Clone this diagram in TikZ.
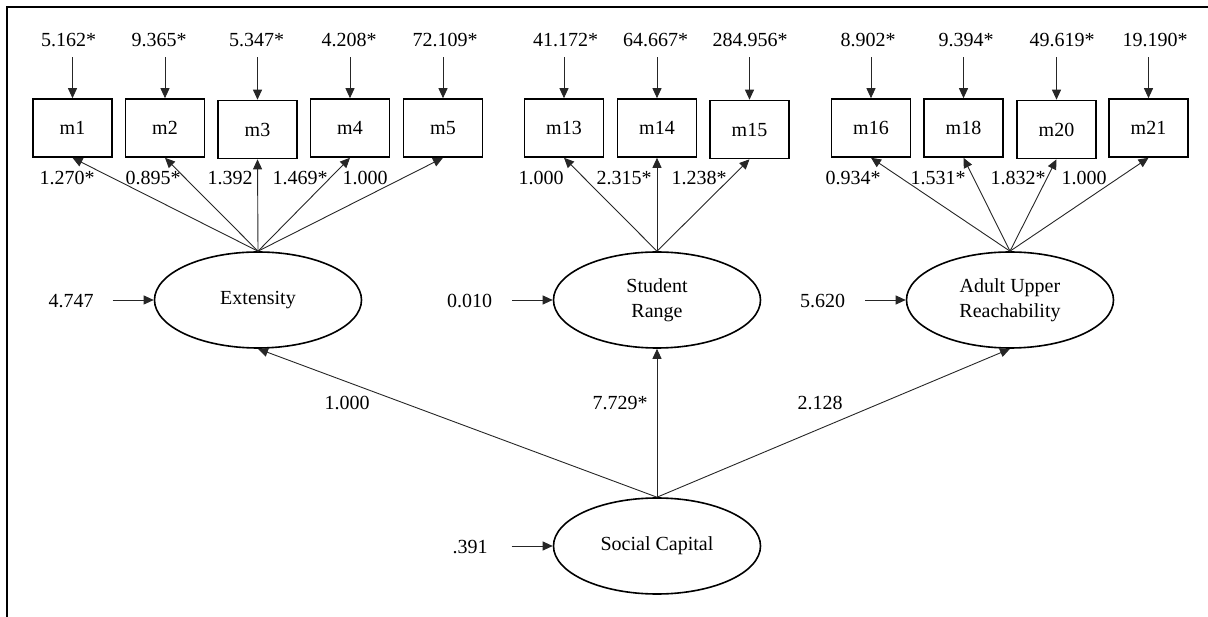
\documentclass[tikz,border=0pt]{standalone}
\usepackage{fontspec}
\setmainfont{Liberation Serif}
\usetikzlibrary{shapes.geometric,arrows.meta}
\begin{document}
\begin{tikzpicture}[x=1pt,y=-1pt,
  every node/.style={font=\fontsize{20}{25}\selectfont, inner sep=0pt},
  obs/.style={draw, line width=1.6pt, minimum width=79pt, minimum height=58pt},
  lat/.style={draw, ellipse, line width=1.6pt, minimum width=207pt, minimum height=96pt, align=center},
  lbl/.style={anchor=base},
  arr/.style={-{Triangle[length=10pt,width=9pt]}, line width=0.9pt, black!85},
  varr/.style={arr, shorten <=10pt},
  frame/.style={line width=2pt, black},
]
\useasboundingbox (0,0) rectangle (1208,617);
\draw[frame] (1208,7) -- (7,7) -- (7,617);

% latent variables
\node[lat] (ext) at (258,300) {Extensity};
\node[lat] (sr)  at (657,300) {Student\\Range};
\node[lat] (aur) at (1010,300) {Adult Upper\\Reachability};
\node[lat] (sc)  at (657,546) {Social Capital};

% indicators
\foreach \n/\bx/\by/\v/\vx/\l/\lx/\f in {
  m1/72.5/128/5.162*/68.5/1.270*/67/ext,
  m2/165/128/9.365*/159/0.895*/153/ext,
  m3/257.5/129.5/5.347*/256.5/1.392/230/ext,
  m4/350/128/4.208*/349/1.469*/300/ext,
  m5/443/128/72.109*/445/1.000/365/ext,
  m13/564/128/41.172*/565.5/1.000/541/sr,
  m14/657/128/64.667*/655.5/2.315*/624/sr,
  m15/749.5/129.5/284.956*/750/1.238*/699/sr,
  m16/871/128/8.902*/868/0.934*/853/aur,
  m18/963.5/128/9.394*/966/1.531*/938/aur,
  m20/1056.5/129.5/49.619*/1062/1.832*/1018/aur,
  m21/1148.5/128/19.190*/1155/1.000/1084/aur}
{
  \node[obs] (\n) at (\bx,\by) {\n};
  \node[lbl] (v\n) at (\vx,47) {\v};
  \node[lbl] (l\n) at (\lx,185) {\l};
  \draw[varr] (\n.north |- v\n.south) -- (\n.north);
  \draw[arr] (\f.north) -- (\n.south);
}

% disturbances of latent variables
\node[lbl] (eext) at (71,308) {4.747};
\node[lbl] (esr)  at (469.5,308) {0.010};
\node[lbl] (eaur) at (822.5,308) {5.620};
\node[lbl] (esc)  at (470,553) {.391};
\draw[arr, shorten <=19pt] (ext.west -| eext.east) -- (ext.west);
\draw[arr, shorten <=20pt] (sr.west -| esr.east) -- (sr.west);
\draw[arr, shorten <=20pt] (aur.west -| eaur.east) -- (aur.west);
\draw[arr, shorten <=24pt] (sc.west -| esc.east) -- (sc.west);

% structural paths
\draw[arr] (sc.north) -- (ext.south);
\draw[arr] (sc.north) -- (sr.south);
\draw[arr] (sc.north) -- (aur.south);
\node[lbl] (p1) at (347,410) {1.000};
\node[lbl] (p2) at (620,410) {7.729*};
\node[lbl] (p3) at (820,410) {2.128};
\end{tikzpicture}
\end{document}
